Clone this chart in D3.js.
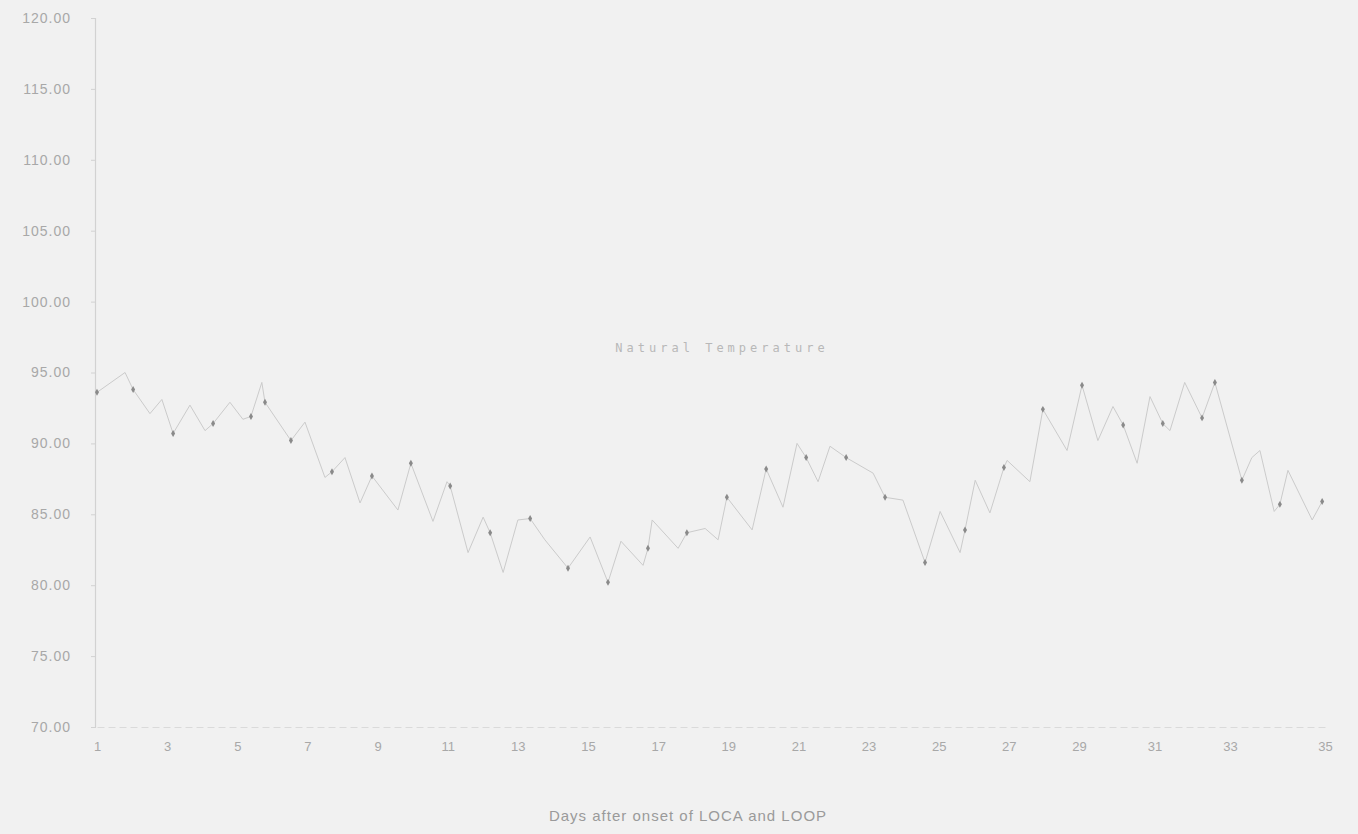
<!DOCTYPE html>
<html>
<head>
<meta charset="utf-8">
<script src="https://cdn.jsdelivr.net/npm/d3@7"></script>
<style>
  body { margin: 0; background: #f1f1f1; }
  svg { display: block; }
</style>
</head>
<body>
<div id="chart"></div>
<script>
// values
var lineDays = [1.0, 1.80, 2.03, 2.51, 2.85, 3.17, 3.65, 4.08, 4.31, 4.79, 5.16, 5.39, 5.70, 5.79,
  6.53, 6.93, 7.50, 7.70, 8.07, 8.50, 8.84, 9.58, 9.95, 10.58, 10.98, 11.07, 11.58, 12.01,
  12.21, 12.58, 13.0, 13.35, 13.77, 14.43, 15.06, 15.57, 15.94, 16.57, 16.71, 16.83, 17.57,
  17.82, 18.34, 18.71, 18.96, 19.68, 20.08, 20.56, 20.96, 21.22, 21.56, 21.90, 22.36, 23.13,
  23.47, 23.98, 24.61, 25.04, 25.61, 25.75, 26.04, 26.46, 26.86, 26.95, 27.60, 27.97, 28.66,
  29.08, 29.50, 29.90, 30.17, 30.54, 30.88, 31.22, 31.41, 31.80, 32.26, 32.60, 33.25, 33.46,
  33.63, 33.93, 34.05, 34.22, 34.73, 34.94];
var lineTemps = [93.6, 95.0, 93.8, 92.1, 93.1, 90.7, 92.7, 90.9, 91.4, 92.9, 91.7, 91.9, 94.3, 92.9,
  90.2, 91.5, 87.6, 88.0, 89.0, 85.8, 87.7, 85.3, 88.6, 84.5, 87.3, 87.0, 82.3, 84.8,
  83.7, 80.9, 84.6, 84.7, 83.2, 81.2, 83.4, 80.2, 83.1, 81.4, 82.6, 84.6, 82.6,
  83.7, 84.0, 83.2, 86.2, 83.9, 88.2, 85.5, 90.0, 89.0, 87.3, 89.8, 89.0, 87.9,
  86.2, 86.0, 81.6, 85.2, 82.3, 83.9, 87.4, 85.1, 88.3, 88.8, 87.3, 92.4, 89.5,
  94.1, 90.2, 92.6, 91.3, 88.6, 93.3, 91.4, 90.9, 94.3, 91.8, 94.3, 87.4, 89.0,
  89.5, 85.2, 85.7, 88.1, 84.6, 85.9];

var markerDays = [1.0, 2.03, 3.17, 4.31, 5.39, 5.79, 6.53, 7.70, 8.84, 9.95, 11.07, 12.21, 13.35,
  14.43, 15.57, 16.71, 17.82, 18.96, 20.08, 21.22, 22.36, 23.47, 24.61, 25.75, 26.86, 27.97,
  29.08, 30.17, 31.22, 32.26, 32.60, 33.25, 34.05, 34.94];
var markerTemps = [93.6, 93.8, 90.7, 91.4, 91.9, 92.9, 90.2, 88.0, 87.7, 88.6, 87.0, 83.7, 84.7,
  81.2, 80.2, 82.6, 83.7, 86.2, 88.2, 89.0, 89.0, 86.2, 81.6, 83.9, 88.3, 92.4,
  94.1, 91.3, 91.4, 91.8, 94.3, 87.4, 85.7, 85.9];

var xTicks = [1, 3, 5, 7, 9, 11, 13, 15, 17, 19, 21, 23, 25, 27, 29, 31, 33, 35];
var yTicks = [70, 75, 80, 85, 90, 95, 100, 105, 110, 115, 120];
var seriesName = "Natural Temperature";
var xTitle = "Days after onset of LOCA and LOOP";

var width = 1358, height = 834;

var svg = d3.select("#chart")
  .append("svg")
    .attr("width", width)
    .attr("height", height);

svg.append("rect")
  .attr("width", width)
  .attr("height", height)
  .attr("fill", "#f1f1f1");

// the scan stretches the last few days a bit, so the x scale is piecewise
var x = d3.scaleLinear()
  .domain([1, 29, 33, 35])
  .range([97, 1079, 1230, 1325]);

var y = d3.scaleLinear()
  .domain([70, 120])
  .range([727, 18]);

// Y axis
var yAxis = svg.append("g")
  .attr("transform", "translate(95,0)")
  .call(d3.axisLeft(y).tickValues(yTicks).tickFormat(d3.format(".2f")).tickSize(4).tickPadding(20));
yAxis.select(".domain").attr("stroke", "#d2d2d2").attr("stroke-width", 1.2);
yAxis.selectAll(".tick line").attr("stroke", "#d2d2d2");
yAxis.selectAll("text")
  .attr("fill", "#a8a8a8")
  .style("font-family", "'Liberation Sans', Arial, sans-serif")
  .style("font-size", "14px")
  .style("letter-spacing", "1px");

// X axis
var xAxis = svg.append("g")
  .attr("transform", "translate(0,727)")
  .call(d3.axisBottom(x).tickValues(xTicks).tickSize(0).tickPadding(15));
xAxis.select(".domain")
  .attr("stroke", "#dadada")
  .attr("stroke-dasharray", "7,4");
xAxis.selectAll("text")
  .attr("fill", "#a8a8a8")
  .style("font-family", "'Liberation Sans', Arial, sans-serif")
  .style("font-size", "13px");

// Axis title
svg.append("text")
  .attr("x", 688)
  .attr("y", 821)
  .attr("text-anchor", "middle")
  .attr("fill", "#9a9a9a")
  .style("font-family", "'Liberation Sans', Arial, sans-serif")
  .style("font-size", "15px")
  .style("letter-spacing", "1px")
  .text(xTitle);

// Series label
svg.append("text")
  .attr("x", 722)
  .attr("y", 352)
  .attr("text-anchor", "middle")
  .attr("fill", "#b8b8b8")
  .style("font-family", "'DejaVu Sans Mono', monospace")
  .style("font-size", "12px")
  .style("letter-spacing", "4px")
  .text(seriesName);

// Line
var lineData = lineDays.map(function (d, i) { return {day: d, temp: lineTemps[i]}; });
svg.append("path")
  .datum(lineData)
  .attr("fill", "none")
  .attr("stroke", "#cbcbcb")
  .attr("stroke-width", 1)
  .attr("d", d3.line()
    .x(function (d) { return x(d.day); })
    .y(function (d) { return y(d.temp); }));

// Markers
var markerData = markerDays.map(function (d, i) { return {day: d, temp: markerTemps[i]}; });
svg.append("g")
  .selectAll("path")
  .data(markerData)
  .enter()
  .append("path")
    .attr("transform", function (d) { return "translate(" + x(d.day) + "," + y(d.temp) + ")"; })
    .attr("d", d3.symbol().type(d3.symbolDiamond).size(14))
    .attr("fill", "#8a8a8a");
</script>
</body>
</html>
